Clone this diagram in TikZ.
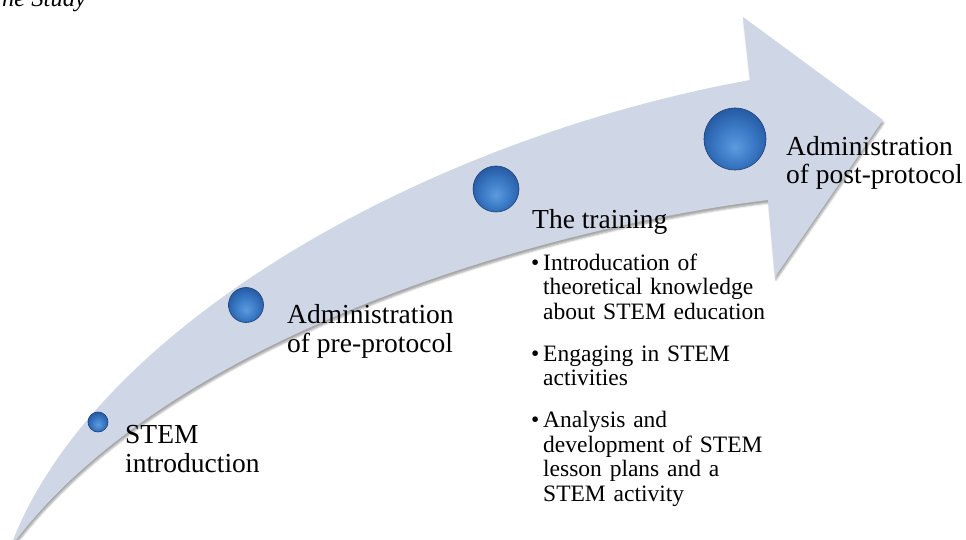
\documentclass[tikz,border=0pt]{standalone}
\usepackage{fontspec}
\setmainfont{Liberation Serif}
\usepackage{tikz}
\usetikzlibrary{shadows.blur}
\definecolor{bandfill}{RGB}{207,214,230}
\definecolor{ballin}{RGB}{92,155,222}
\definecolor{ballmid}{RGB}{60,124,200}
\definecolor{ballout}{RGB}{40,92,166}
\definecolor{ballrim}{RGB}{28,62,118}
\pgfdeclareradialshading{gelball}{\pgfpoint{0bp}{-7bp}}{color(0bp)=(ballin); color(14bp)=(ballmid); color(27bp)=(ballout); color(50bp)=(ballout)}
\newcommand{\bulitem}[1]{\hangindent=12pt\hangafter=1\noindent\makebox[12pt][l]{\textbullet}#1\par}

\begin{document}
\begin{tikzpicture}[x=1pt, y=-1pt,
        ball/.style = {circle, inner sep=0pt, shading=gelball, draw=ballrim, line width=0.6pt},
        head/.style = {anchor=base west, inner sep=0pt, align=left, font=\fontsize{27.5}{28.5}\selectfont},
        bullets/.style = {anchor=base west, inner sep=0pt, text width=260pt, align=left, font=\fontsize{23.5}{24.5}\selectfont}]
        \useasboundingbox (0,0) rectangle (966,540);
        \clip (0,0) rectangle (966,540);

        \fill[bandfill, blur shadow={shadow xshift=1pt, shadow yshift=-3pt, shadow opacity=35}]
                (10,548) .. controls (90,330) and (420,140) .. (750,80)
                -- (743,17) -- (883,120) -- (775,277) -- (768,200)
                .. controls (560,225) and (170,330) .. (10,548) -- cycle;

        \node[anchor=base west, inner sep=0pt, font=\itshape\fontsize{24.5}{25}\selectfont] (cap) at (2,7) {he Study};

        \node[ball, minimum size=20pt](s1) at (98,422) {};
        \node[ball, minimum size=35pt](s2) at (246,305) {};
        \node[ball, minimum size=46pt](s3) at (496,189) {};
        \node[ball, minimum size=62pt](s4) at (735,139) {};

        \node[head](t1) at (125,472) {STEM\\introduction};
        \node[head](t2) at (287,352) {Administration\\of pre-protocol};
        \node[head](t3) at (532,228) {The training};
        \node[head](t4) at (786,184) {Administration\\of post-protocol};

        \node[bullets](b3) at (531,270) {\setlength{\parskip}{17.5pt}%
                \bulitem{Introducation of\newline theoretical knowledge\newline about STEM education}
                \bulitem{Engaging in STEM\newline activities}
                \bulitem{Analysis and\newline development of STEM\newline lesson plans and a\newline STEM activity}};
\end{tikzpicture}
\end{document}
